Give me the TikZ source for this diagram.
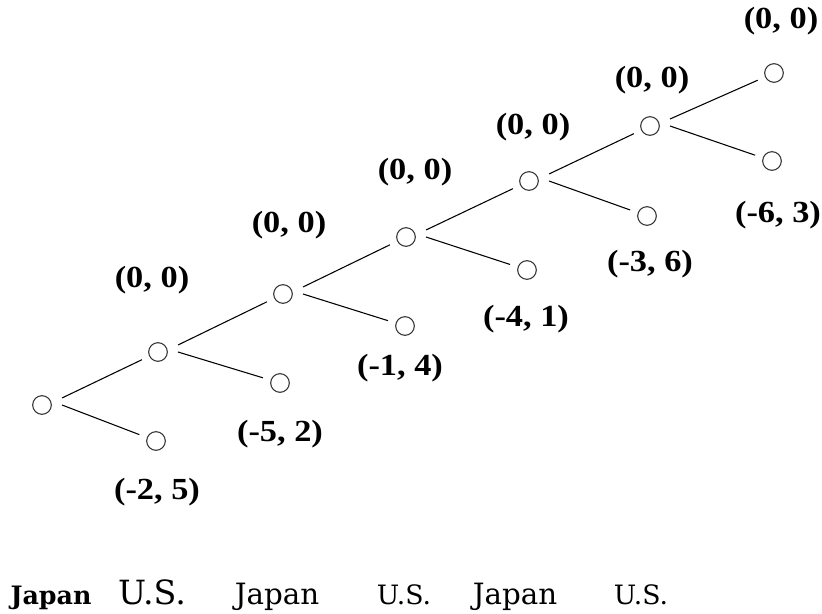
\documentclass[tikz,border=0pt]{standalone}
\usepackage{fontspec}
\usepackage{tikz}
\usetikzlibrary{positioning}
\newfontfamily\payfont{Liberation Serif}
\newfontfamily\plfont{DejaVu Serif}
\newcommand{\pay}[1]{\scalebox{1.12}[1]{#1}}

\begin{document}
\begin{tikzpicture}[x=0.75pt,y=-0.75pt,
    vtx/.style={circle,draw=black!80,line width=0.8pt,minimum size=14pt,inner sep=0pt},
    branch/.style={black,line width=0.8pt,shorten >=6pt},
    payoff/.style={font=\payfont\bfseries\fontsize{23}{23}\selectfont,inner sep=0pt},
    player/.style={anchor=base,inner sep=0pt}]
  \useasboundingbox (0,0) rectangle (822,614);
  % decision nodes along the main line
  \foreach \i/\x/\y in {0/42/405,1/158/352,2/283/294,3/406/237,4/529/181,5/650/126,6/774/73}
     {\node[vtx] (n\i) at (\x,\y) {};}
  % terminal nodes
  \foreach \i/\x/\y in {0/156/441,1/280/383,2/405/326,3/527/270,4/647/216,5/772/161}
     {\node[vtx] (l\i) at (\x,\y) {};}
  \foreach \i in {0,...,5}
     {\pgfmathtruncatemacro\j{\i+1}
      \coordinate (u\i) at ([shift={(20,-7)}]n\i.center);
      \coordinate (d\i) at ([shift={(20,0)}]n\i.center);
      \draw[branch] (u\i) -- (n\j);
      \draw[branch] (d\i) -- (l\i);}
  % payoffs
  \foreach \i/\x/\y in {1/152/280,2/289/225,3/415/172,4/533/127,5/652/80,6/781/21}
     {\node[payoff] (p\i) at (\x,\y) {\pay{(0, 0)}};}
  \node[payoff] (q0) at (157,492) {\pay{(-2, 5)}};
  \node[payoff] (q1) at (280,434) {\pay{(-5, 2)}};
  \node[payoff] (q2) at (400,368) {\pay{(-1, 4)}};
  \node[payoff] (q3) at (526,319) {\pay{(-4, 1)}};
  \node[payoff] (q4) at (650,264) {\pay{(-3, 6)}};
  \node[payoff] (q5) at (778,215) {\pay{(-6, 3)}};
  % who moves
  \node[player,font=\plfont\bfseries\fontsize{19}{19}\selectfont] (j1) at (51,604) {Japan};
  \node[player,font=\plfont\fontsize{25}{25}\selectfont] (s1) at (152,604) {U.S.};
  \node[player,font=\plfont\fontsize{22}{22}\selectfont] (j2) at (277,604) {Japan};
  \node[player,font=\plfont\fontsize{20}{20}\selectfont] (s2) at (404,604) {U.S.};
  \node[player,font=\plfont\fontsize{22}{22}\selectfont] (j3) at (515,604) {Japan};
  \node[player,font=\plfont\fontsize{20}{20}\selectfont] (s3) at (641,604) {U.S.};
\end{tikzpicture}
\end{document}
